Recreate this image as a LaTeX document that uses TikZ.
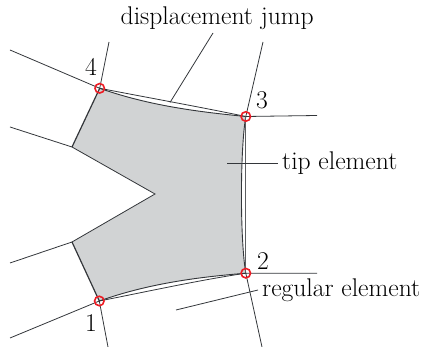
\documentclass[tikz,border=0pt]{standalone}
\definecolor{cellgrey}{HTML}{D1D3D4}
\definecolor{linegrey}{HTML}{33363A}
\definecolor{markred}{HTML}{ED1C24}
\tikzset{
  edgeline/.style={draw=linegrey,line width=0.9pt},
  thinline/.style={draw=linegrey,line width=0.8pt},
  jumpline/.style={draw=linegrey,line width=0.8pt},
  lab/.style={inner sep=0pt,font=\fontsize{25.6}{30}\selectfont},
  marker/.style={circle,draw=markred,line width=1.6pt,minimum size=9.5pt,inner sep=0pt},
}
\begin{document}
\begin{tikzpicture}[x=1pt,y=-1pt]
\useasboundingbox (0,0) rectangle (424,347);
\coordinate (n1) at (99.3,301);
\coordinate (n2) at (245.8,273.2);
\coordinate (n3) at (245.8,116.5);
\coordinate (n4) at (99.7,88.3);
\coordinate (ul) at (72,147);
\coordinate (tip) at (155,194);
\coordinate (ll) at (72,242);
\coordinate (a1) at (10,50);
\coordinate (a2) at (109,42);
\coordinate (a3) at (263,42);
\coordinate (a4) at (317,115.5);
\coordinate (a5) at (317,273.2);
\coordinate (a6) at (262,347);
\coordinate (a7) at (10,338);
\coordinate (a8) at (108,347);
\coordinate (a9) at (10,127);
\coordinate (a10) at (10,263);
\coordinate (jumpa) at (170,102.5);
\coordinate (jumpb) at (213,33);
\coordinate (tipa) at (227,163);
\coordinate (tipb) at (278,163);
\coordinate (rega) at (176,310);
\coordinate (regb) at (258,290);
\path[fill=cellgrey] (n4) .. controls (150,106) and (200,112) .. (n3)
  .. controls (240,150) and (240,240) .. (n2)
  .. controls (200,277) and (150,283) .. (n1)
  -- (ll) -- (tip) -- (ul) -- cycle;
\draw[edgeline] (n4) .. controls (150,106) and (200,112) .. (n3);
\draw[edgeline] (n3) .. controls (240,150) and (240,240) .. (n2);
\draw[edgeline] (n2) .. controls (200,277) and (150,283) .. (n1);
\draw[edgeline,line width=1.2pt] (n1) -- (ll);
\draw[edgeline,line width=1.2pt] (n4) -- (ul);
\draw[thinline] (ll) -- (tip) -- (ul);
\draw[jumpline] (n4) .. controls (150,98) and (200,107) .. (n3);
\draw[jumpline,line width=1pt,draw=linegrey!80] (n3) -- (n2);
\draw[jumpline] (n2) .. controls (200,280) and (150,291) .. (n1);
\draw[thinline] (a1) -- (n4) -- (a2);
\draw[thinline] (a3) -- (n3) -- (a4);
\draw[thinline] (a5) -- (n2) -- (a6);
\draw[thinline] (a7) -- (n1) -- (a8);
\draw[thinline] (a9) -- (ul);
\draw[thinline] (a10) -- (ll);
\draw[thinline] (jumpa) -- (jumpb);
\draw[thinline] (tipa) -- (tipb);
\draw[thinline] (rega) -- (regb);
\node[marker] (m1) at (n1) {};
\node[marker] (m2) at (n2) {};
\node[marker] (m3) at (n3) {};
\node[marker] (m4) at (n4) {};
\node[lab] (l1) at (91,323) {1};
\node[lab] (l2) at (263,261) {2};
\node[lab] (l3) at (262,100) {3};
\node[lab] (l4) at (91,67) {4};
\node[lab,anchor=base west] (t1) at (120.5,25) {displacement jump};
\node[lab,anchor=base west] (t2) at (282,170) {tip element};
\node[lab,anchor=base west] (t3) at (262,297) {regular element};
\end{tikzpicture}
\end{document}
